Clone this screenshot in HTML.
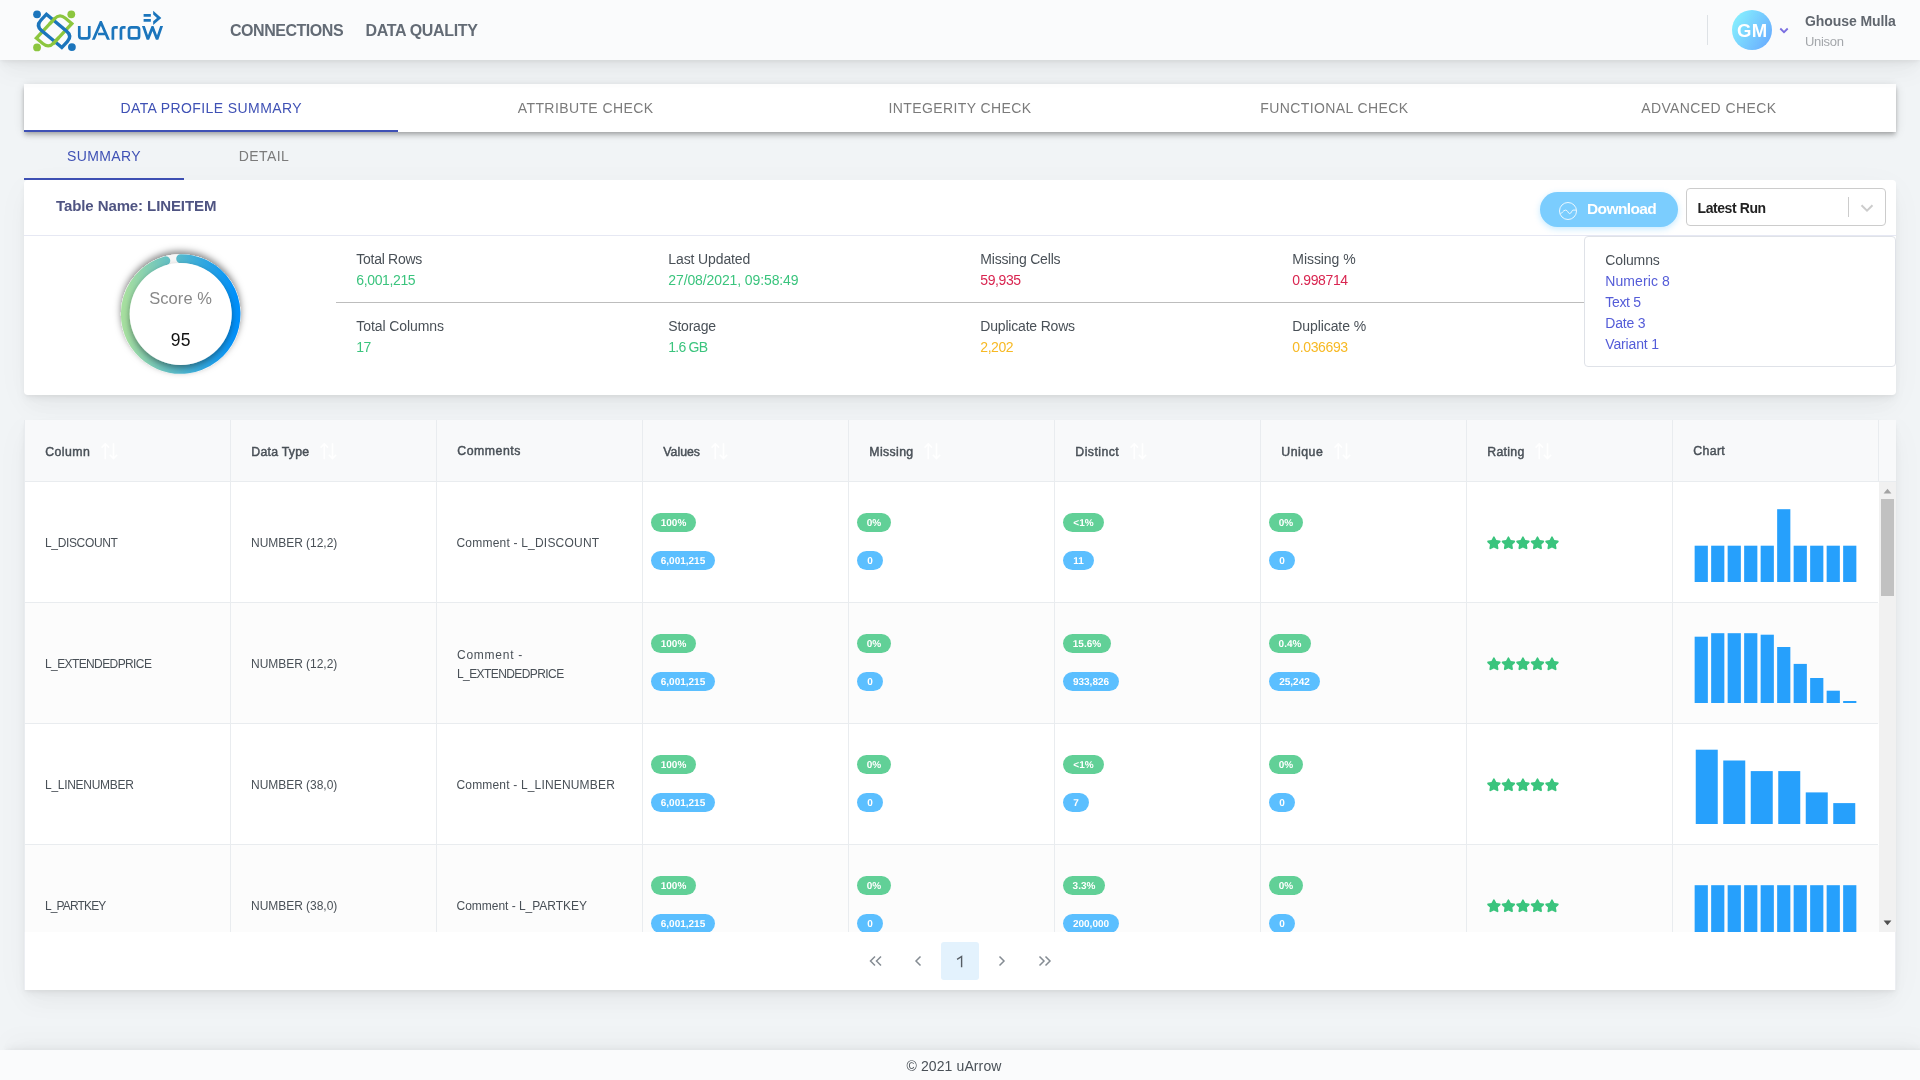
<!DOCTYPE html><html><head><meta charset="utf-8"><title>uArrow</title><style>
*{box-sizing:border-box;margin:0;padding:0}
html,body{width:1920px;height:1080px;overflow:hidden}
body{font-family:"Liberation Sans",sans-serif;background:#f1f4f6;color:#495057;position:relative;font-size:14px;line-height:1}
.a{position:absolute;white-space:nowrap}
.sh{box-shadow:0 7.5px 35px rgba(4,9,20,.03),0 15px 22.5px rgba(4,9,20,.03),0 4px 8.5px rgba(4,9,20,.05),0 2px 3px rgba(4,9,20,.03)}
#w{position:absolute;left:0;top:0;width:1920px;height:1080px;will-change:transform}
#hdr{left:0;top:0;width:1920px;height:60px;background:#fafbfc;z-index:10}
#ftr{left:0;top:1050px;width:1920px;height:30px;background:#fafbfc;z-index:10;box-shadow:4.8px -7.5px 35px rgba(4,9,20,.02),4.8px -15px 22.5px rgba(4,9,20,.02),4.8px -4px 8.5px rgba(4,9,20,.04),4.8px -2px 3px rgba(4,9,20,.02)}
.nav{font-weight:bold;font-size:16px;color:#636b75}
#tabs{left:24px;top:84px;width:1872px;height:48px;background:#fff;box-shadow:0 2px 4px -1px rgba(0,0,0,.2),0 4px 5px 0 rgba(0,0,0,.14),0 1px 10px 0 rgba(0,0,0,.12)}
.tab{top:0;height:48px;width:374.4px;text-align:center;font-size:14px;line-height:48px;color:#7b7b7b;letter-spacing:.4px}
.tab.on{color:#3f51b5}
.ink{background:#3f51b5;height:2px}
#card1{left:24px;top:180px;width:1872px;height:215px;background:#fff;border-radius:4px}
#card2{left:24px;top:420px;width:1872px;height:570px;background:#fff}
.lbl{font-size:14px;color:#495057}
.val{font-size:14px}
.g{color:#3ac47d}.r{color:#d92550}.y{color:#f7b924}.lk{color:#545cd8}
.th{top:0;height:62px;border-left:1px solid #e9ecef;width:206px}
.hd{font-weight:normal;font-size:12.3px;color:#495057;-webkit-text-stroke:.45px #495057}
.td{border-left:1px solid #e9ecef;border-bottom:1px solid #e9ecef;width:206px;height:121px}
.tx{font-size:12px;color:#495057}
.bd{height:19px;border-radius:10px;color:#fff;font-weight:bold;font-size:10px;line-height:19.5px;padding-top:1px;text-align:center;letter-spacing:0;text-rendering:geometricPrecision}
.bg{background:#61d097}.bb{background:#5bbfff}
</style></head><body><div id="w">
<div id="hdr" class="a sh">
<svg class="a" style="left:25px;top:0" width="80" height="60" viewBox="25 0 80 60">
<g transform="matrix(0.766,0.643,-0.682,0.731,54.1,30.9)" fill="none" stroke-width="3.3" stroke-linejoin="miter">
<path d="M8,-17 L8,9.5 Q8,17 0.5,17 L-8,17 L-8,-9.5 Q-8,-17 -0.5,-17 Z" stroke="#8cc63f"/>
<path d="M-17,-7.8 L9.5,-7.8 Q17,-7.8 17,-0.2999999999999998 L17,7.8 L-9.5,7.8 Q-17,7.8 -17,0.2999999999999998 Z" stroke="#1b75bc"/>
<path d="M-8,-2 L-8,-11" stroke="#8cc63f"/>
<path d="M8,2 L8,11" stroke="#8cc63f"/>
</g>
<circle cx="37.05" cy="14.3" r="3.9" fill="#1b75bc"/>
<circle cx="71.3" cy="14.3" r="3.9" fill="#8cc63f"/>
<circle cx="37.05" cy="47.4" r="3.9" fill="#8cc63f"/>
<circle cx="71.9" cy="47.1" r="3.9" fill="#1b75bc"/>
</svg>
<svg class="a" style="left:70px;top:0" width="100" height="60" viewBox="0 0 1800 1080">
<defs><clipPath id="cw"><rect x="1280" y="470" width="420" height="245"/></clipPath><clipPath id="ca"><rect x="380" y="380" width="360" height="335"/></clipPath></defs>
<g fill="none" stroke="#1b75bc" stroke-width="49" stroke-linejoin="miter">
<path d="M167,470 V650 Q167,692 210,692 H305 Q347,692 347,650 V470"/>
<path d="M412,735 L555,400 L700,735 M505,612 H645" clip-path="url(#ca)"/>
<path d="M772,715 V532 Q772,492 812,492 H860"/>
<path d="M917,715 V532 Q917,492 957,492 H1000"/>
<rect x="1062" y="492" width="181" height="200" rx="40"/>
<path d="M1315,450 L1402,705 L1485,490 L1568,705 L1655,450" clip-path="url(#cw)"/>
<path d="M1325,278 H1455 M1325,368 H1455"/>
<path d="M1497,192 L1644,322 L1497,452 L1497,384 L1566,322 L1497,260 Z" fill="#1b75bc" stroke="none"/>
</g></svg>
<div class="a nav" id="t1" style="left:230px;top:23px;letter-spacing:-0.463px;">CONNECTIONS</div>
<div class="a nav" id="t2" style="left:365.6px;top:23px;letter-spacing:-0.349px;">DATA QUALITY</div>
<div class="a" style="left:1707px;top:15px;width:1px;height:30px;background:#dee2e6"></div>
<div class="a" style="left:1732px;top:10px;width:40px;height:40px;border-radius:50%;background:linear-gradient(120deg,#89f7fe 0%,#66a6ff 100%)"></div>
<div class="a " id="t3" style="left:1737px;top:22.3px;color:#fff;font-weight:bold;font-size:18.5px;letter-spacing:.3px">GM</div>
<svg class="a" style="left:1778px;top:26px" width="12" height="10" viewBox="0 0 12 10"><path d="M2.3,2.5 L6,6.2 L9.7,2.5" fill="none" stroke="#7a6ee0" stroke-width="1.8"/></svg>
<div class="a " id="t4" style="left:1805px;top:14px;letter-spacing:-0.082px;font-weight:bold;font-size:14px;color:#60666e">Ghouse Mulla</div>
<div class="a " id="t5" style="left:1805px;top:35px;letter-spacing:-0.314px;font-size:13px;color:#a4a7ab">Unison</div>
</div>
<div id="tabs" class="a">
<div class="a tab on" style="left:0.0px">DATA PROFILE SUMMARY</div>
<div class="a tab" style="left:374.4px">ATTRIBUTE CHECK</div>
<div class="a tab" style="left:748.8px">INTEGERITY CHECK</div>
<div class="a tab" style="left:1123.2px">FUNCTIONAL CHECK</div>
<div class="a tab" style="left:1497.6px">ADVANCED CHECK</div>
<div class="a ink" style="left:0;top:46px;width:374px"></div>
</div>
<div class="a tab on" style="left:24px;top:132px;width:160px">SUMMARY</div>
<div class="a tab" style="left:184px;top:132px;width:160px">DETAIL</div>
<div class="a ink" style="left:24px;top:178px;width:160px"></div>
<div id="card1" class="a sh">
<div class="a " id="t6" style="left:32px;top:18px;letter-spacing:-0.097px;font-weight:bold;font-size:15px;color:#4f5482">Table Name: LINEITEM</div>
<div class="a" style="left:0;top:55px;width:1872px;height:1px;background:#e6e8f3"></div>
<div class="a" style="left:1516px;top:12px;width:138px;height:35px;border-radius:18px;background:#7bcdfe;box-shadow:0 2px 6px rgba(22,170,255,.25)"></div>
<svg class="a" style="left:1534px;top:21px;opacity:.85" width="20" height="20" viewBox="0 0 20 20"><circle cx="10" cy="10" r="8.5" fill="none" stroke="#fff" stroke-width="1"/><path d="M2.1,13.2 C4,12.5 5,9.2 7.6,9.1 C10,9.1 10,12.6 11.7,12.6 C13.4,12.6 13.8,9.1 15,9.1 L18.1,9.1" fill="none" stroke="#fff" stroke-width="1"/></svg>
<div class="a " id="t7" style="left:1563px;top:21px;letter-spacing:-0.609px;font-weight:bold;font-size:15.5px;color:#fff">Download</div>
<div class="a" style="left:1662px;top:8px;width:200px;height:38px;border:1px solid #ccc;border-radius:4px;background:#fff"></div>
<div class="a " id="t8" style="left:1673.5px;top:21px;letter-spacing:-0.416px;font-weight:bold;font-size:14px;color:#222">Latest Run</div>
<div class="a" style="left:1824px;top:17px;width:1px;height:20px;background:#ccc"></div>
<svg class="a" style="left:1835px;top:22px" width="16" height="12" viewBox="0 0 16 12"><path d="M2.5,3.2 L8,8.6 L13.5,3.2" fill="none" stroke="#ccc" stroke-width="2"/></svg>
<svg class="a" style="left:76px;top:56px" width="160" height="158" viewBox="76 56 160 158">
<defs>
<linearGradient id="gr" x1="0" y1="0" x2="1" y2="0"><stop offset="0" stop-color="#a6dfa0"/><stop offset="1" stop-color="#0090fb"/></linearGradient>
<filter id="f1" x="-30%" y="-30%" width="160%" height="160%"><feDropShadow dx="0" dy="-3" stdDeviation="3.5" flood-color="#000" flood-opacity=".5"/></filter>
<filter id="f2" x="-30%" y="-30%" width="160%" height="160%"><feDropShadow dx="0" dy="3" stdDeviation="3" flood-color="#000" flood-opacity=".4"/></filter>
<clipPath id="cr"><circle cx="156.7" cy="134" r="59.6"/></clipPath>
</defs>
<circle cx="156.7" cy="134" r="55.3" fill="none" stroke="#f4f4f4" stroke-width="9" filter="url(#f1)"/>
<circle cx="156.7" cy="134" r="55.3" fill="none" stroke="#f6f6f6" stroke-width="9"/>
<path d="M156.70,78.70 A55.3,55.3 0 1 1 141.74,80.76" fill="none" stroke="url(#gr)" stroke-width="9" stroke-linecap="round"/>
<g clip-path="url(#cr)"><circle cx="156.7" cy="134" r="51" fill="#fff" filter="url(#f2)"/></g>
</svg>
<div class="a " id="t9" style="left:125.2px;top:110px;letter-spacing:0.073px;font-size:16.5px;color:#888">Score %</div>
<div class="a " id="t10" style="left:146.8px;top:152px;letter-spacing:0.131px;font-size:17.5px;color:#111">95</div>
<div class="a lbl" id="t11" style="left:332.3px;top:72px;letter-spacing:-0.274px;">Total Rows</div>
<div class="a val g" id="t12" style="left:332.3px;top:93px;letter-spacing:-0.375px;">6,001,215</div>
<div class="a lbl" id="t13" style="left:332.3px;top:139px;letter-spacing:-0.092px;">Total Columns</div>
<div class="a val g" id="t14" style="left:332.3px;top:160px;letter-spacing:-0.578px;">17</div>
<div class="a lbl" id="t15" style="left:644.3px;top:72px;letter-spacing:-0.118px;">Last Updated</div>
<div class="a val g" id="t16" style="left:644.3px;top:93px;letter-spacing:-0.108px;">27/08/2021, 09:58:49</div>
<div class="a lbl" id="t17" style="left:644.3px;top:139px;letter-spacing:-0.224px;">Storage</div>
<div class="a val g" id="t18" style="left:644.3px;top:160px;letter-spacing:-0.779px;">1.6 GB</div>
<div class="a lbl" id="t19" style="left:956.3px;top:72px;letter-spacing:-0.181px;">Missing Cells</div>
<div class="a val r" id="t20" style="left:956.3px;top:93px;letter-spacing:-0.406px;">59,935</div>
<div class="a lbl" id="t21" style="left:956.3px;top:139px;letter-spacing:-0.190px;">Duplicate Rows</div>
<div class="a val y" id="t22" style="left:956.3px;top:160px;letter-spacing:-0.437px;">2,202</div>
<div class="a lbl" id="t23" style="left:1268.3px;top:72px;letter-spacing:-0.062px;">Missing %</div>
<div class="a val r" id="t24" style="left:1268.3px;top:93px;letter-spacing:-0.372px;">0.998714</div>
<div class="a lbl" id="t25" style="left:1268.3px;top:139px;letter-spacing:-0.090px;">Duplicate %</div>
<div class="a val y" id="t26" style="left:1268.3px;top:160px;letter-spacing:-0.372px;">0.036693</div>
<div class="a" style="left:312px;top:122px;width:1248px;height:1px;background:#bdbdbd"></div>
<div class="a" style="left:1560px;top:56px;width:312px;height:131px;border:1px solid #dfe2e8;border-radius:4px;background:#fff"></div>
<div class="a lbl" id="t27" style="left:1581.3px;top:73px;letter-spacing:-0.125px;">Columns</div>
<div class="a val lk" id="t28" style="left:1581.3px;top:94px;letter-spacing:0.088px;">Numeric 8</div>
<div class="a val lk" id="t29" style="left:1581.3px;top:115px;letter-spacing:-0.332px;">Text 5</div>
<div class="a val lk" id="t30" style="left:1581.3px;top:136px;letter-spacing:-0.190px;">Date 3</div>
<div class="a val lk" id="t31" style="left:1581.3px;top:157px;letter-spacing:-0.150px;">Variant 1</div>
</div>
<div id="card2" class="a sh">
<div class="a" style="left:0;top:0;width:1872px;height:62px;background:#f8f9fa;border-bottom:1px solid #e9ecef"></div>
<div class="a th" style="left:0px"></div>
<div class="a hd" id="t32" style="left:21.3px;top:26.4px;letter-spacing:0.425px;">Column</div>
<svg class="a" style="left:76.8px;top:22.6px" width="17" height="17" viewBox="0 0 17 17" fill="none" stroke="#fff" stroke-width="1.6"><path d="M4.3,16.2 V0.8 M0.6,4.6 L4.3,0.8 L8,4.6 M12.5,0.2 V15.6 M8.8,11.8 L12.5,15.6 L16.2,11.8"/></svg>
<div class="a th" style="left:206px"></div>
<div class="a hd" id="t33" style="left:227.3px;top:26.4px;letter-spacing:0.259px;">Data Type</div>
<svg class="a" style="left:296.2px;top:22.6px" width="17" height="17" viewBox="0 0 17 17" fill="none" stroke="#fff" stroke-width="1.6"><path d="M4.3,16.2 V0.8 M0.6,4.6 L4.3,0.8 L8,4.6 M12.5,0.2 V15.6 M8.8,11.8 L12.5,15.6 L16.2,11.8"/></svg>
<div class="a th" style="left:412px"></div>
<div class="a hd" id="t34" style="left:433.3px;top:25.2px;letter-spacing:0.521px;">Comments</div>
<div class="a th" style="left:618px"></div>
<div class="a hd" id="t35" style="left:639.3px;top:26.4px;letter-spacing:0.003px;">Values</div>
<svg class="a" style="left:687.0px;top:22.6px" width="17" height="17" viewBox="0 0 17 17" fill="none" stroke="#fff" stroke-width="1.6"><path d="M4.3,16.2 V0.8 M0.6,4.6 L4.3,0.8 L8,4.6 M12.5,0.2 V15.6 M8.8,11.8 L12.5,15.6 L16.2,11.8"/></svg>
<div class="a th" style="left:824px"></div>
<div class="a hd" id="t36" style="left:845.3px;top:26.4px;letter-spacing:0.369px;">Missing</div>
<svg class="a" style="left:900.2px;top:22.6px" width="17" height="17" viewBox="0 0 17 17" fill="none" stroke="#fff" stroke-width="1.6"><path d="M4.3,16.2 V0.8 M0.6,4.6 L4.3,0.8 L8,4.6 M12.5,0.2 V15.6 M8.8,11.8 L12.5,15.6 L16.2,11.8"/></svg>
<div class="a th" style="left:1030px"></div>
<div class="a hd" id="t37" style="left:1051.3px;top:26.4px;letter-spacing:0.453px;">Distinct</div>
<svg class="a" style="left:1105.8px;top:22.6px" width="17" height="17" viewBox="0 0 17 17" fill="none" stroke="#fff" stroke-width="1.6"><path d="M4.3,16.2 V0.8 M0.6,4.6 L4.3,0.8 L8,4.6 M12.5,0.2 V15.6 M8.8,11.8 L12.5,15.6 L16.2,11.8"/></svg>
<div class="a th" style="left:1236px"></div>
<div class="a hd" id="t38" style="left:1257.3px;top:26.4px;letter-spacing:0.506px;">Unique</div>
<svg class="a" style="left:1309.8px;top:22.6px" width="17" height="17" viewBox="0 0 17 17" fill="none" stroke="#fff" stroke-width="1.6"><path d="M4.3,16.2 V0.8 M0.6,4.6 L4.3,0.8 L8,4.6 M12.5,0.2 V15.6 M8.8,11.8 L12.5,15.6 L16.2,11.8"/></svg>
<div class="a th" style="left:1442px"></div>
<div class="a hd" id="t39" style="left:1463.3px;top:26.4px;letter-spacing:0.291px;">Rating</div>
<svg class="a" style="left:1511.3px;top:22.6px" width="17" height="17" viewBox="0 0 17 17" fill="none" stroke="#fff" stroke-width="1.6"><path d="M4.3,16.2 V0.8 M0.6,4.6 L4.3,0.8 L8,4.6 M12.5,0.2 V15.6 M8.8,11.8 L12.5,15.6 L16.2,11.8"/></svg>
<div class="a th" style="left:1648px"></div>
<div class="a hd" id="t40" style="left:1669.3px;top:25.2px;letter-spacing:0.355px;">Chart</div>
<div class="a" style="left:1854px;top:0;width:1px;height:512px;background:#e9ecef"></div>
<div class="a" style="left:0;top:62px;width:1855px;height:450px;overflow:hidden">
<div class="a" style="left:0;top:0px;width:1855px;height:121px;background:#fff"></div>
<div class="a td" style="left:0px;top:0px"></div>
<div class="a td" style="left:206px;top:0px"></div>
<div class="a td" style="left:412px;top:0px"></div>
<div class="a td" style="left:618px;top:0px"></div>
<div class="a td" style="left:824px;top:0px"></div>
<div class="a td" style="left:1030px;top:0px"></div>
<div class="a td" style="left:1236px;top:0px"></div>
<div class="a td" style="left:1442px;top:0px"></div>
<div class="a td" style="left:1648px;top:0px"></div>
<div class="a tx" id="t41" style="left:21px;top:54.5px;letter-spacing:-0.346px;">L_DISCOUNT</div>
<div class="a tx" id="t42" style="left:227px;top:54.5px;letter-spacing:-0.032px;">NUMBER (12,2)</div>
<div class="a tx" id="t43" style="left:432.5px;top:54.5px;letter-spacing:0.205px;">Comment - L_DISCOUNT</div>
<div class="a bd bg" style="left:627px;top:31px;width:45px">100%</div>
<div class="a bd bb" style="left:627px;top:69px;width:64px">6,001,215</div>
<div class="a bd bg" style="left:833px;top:31px;width:34px">0%</div>
<div class="a bd bb" style="left:833px;top:69px;width:26px">0</div>
<div class="a bd bg" style="left:1039px;top:31px;width:41px">&lt;1%</div>
<div class="a bd bb" style="left:1039px;top:69px;width:31px">11</div>
<div class="a bd bg" style="left:1245px;top:31px;width:34px">0%</div>
<div class="a bd bb" style="left:1245px;top:69px;width:26px">0</div>
<svg class="a" style="left:1463.2px;top:53.8px" width="74" height="14" viewBox="0 0 74 14" fill="#3ac47d"><path transform="translate(0.00,0)" d="M6.9,0.3 C7.2,0.3 7.5,0.5 7.7,0.9 L9.3,4.1 L12.8,4.6 C13.6,4.7 13.9,5.6 13.3,6.2 L10.8,8.6 L11.4,12.1 C11.5,12.9 10.7,13.4 10,13.1 L6.9,11.4 L3.8,13.1 C3.1,13.4 2.3,12.9 2.4,12.1 L3,8.6 L0.5,6.2 C-0.1,5.6 0.2,4.7 1,4.6 L4.5,4.1 L6.1,0.9 C6.3,0.5 6.6,0.3 6.9,0.3 Z"/><path transform="translate(14.52,0)" d="M6.9,0.3 C7.2,0.3 7.5,0.5 7.7,0.9 L9.3,4.1 L12.8,4.6 C13.6,4.7 13.9,5.6 13.3,6.2 L10.8,8.6 L11.4,12.1 C11.5,12.9 10.7,13.4 10,13.1 L6.9,11.4 L3.8,13.1 C3.1,13.4 2.3,12.9 2.4,12.1 L3,8.6 L0.5,6.2 C-0.1,5.6 0.2,4.7 1,4.6 L4.5,4.1 L6.1,0.9 C6.3,0.5 6.6,0.3 6.9,0.3 Z"/><path transform="translate(29.04,0)" d="M6.9,0.3 C7.2,0.3 7.5,0.5 7.7,0.9 L9.3,4.1 L12.8,4.6 C13.6,4.7 13.9,5.6 13.3,6.2 L10.8,8.6 L11.4,12.1 C11.5,12.9 10.7,13.4 10,13.1 L6.9,11.4 L3.8,13.1 C3.1,13.4 2.3,12.9 2.4,12.1 L3,8.6 L0.5,6.2 C-0.1,5.6 0.2,4.7 1,4.6 L4.5,4.1 L6.1,0.9 C6.3,0.5 6.6,0.3 6.9,0.3 Z"/><path transform="translate(43.56,0)" d="M6.9,0.3 C7.2,0.3 7.5,0.5 7.7,0.9 L9.3,4.1 L12.8,4.6 C13.6,4.7 13.9,5.6 13.3,6.2 L10.8,8.6 L11.4,12.1 C11.5,12.9 10.7,13.4 10,13.1 L6.9,11.4 L3.8,13.1 C3.1,13.4 2.3,12.9 2.4,12.1 L3,8.6 L0.5,6.2 C-0.1,5.6 0.2,4.7 1,4.6 L4.5,4.1 L6.1,0.9 C6.3,0.5 6.6,0.3 6.9,0.3 Z"/><path transform="translate(58.08,0)" d="M6.9,0.3 C7.2,0.3 7.5,0.5 7.7,0.9 L9.3,4.1 L12.8,4.6 C13.6,4.7 13.9,5.6 13.3,6.2 L10.8,8.6 L11.4,12.1 C11.5,12.9 10.7,13.4 10,13.1 L6.9,11.4 L3.8,13.1 C3.1,13.4 2.3,12.9 2.4,12.1 L3,8.6 L0.5,6.2 C-0.1,5.6 0.2,4.7 1,4.6 L4.5,4.1 L6.1,0.9 C6.3,0.5 6.6,0.3 6.9,0.3 Z"/></svg>
<svg class="a" style="left:1669px;top:0px" width="165" height="100" viewBox="0 0 165 100" fill="#26a0fc"><rect x="1.65" y="63.70" width="13.20" height="36.50"/><rect x="18.15" y="63.70" width="13.20" height="36.50"/><rect x="34.65" y="63.70" width="13.20" height="36.50"/><rect x="51.15" y="63.70" width="13.20" height="36.50"/><rect x="67.65" y="63.70" width="13.20" height="36.50"/><rect x="84.15" y="27.20" width="13.20" height="73.00"/><rect x="100.65" y="63.70" width="13.20" height="36.50"/><rect x="117.15" y="63.70" width="13.20" height="36.50"/><rect x="133.65" y="63.70" width="13.20" height="36.50"/><rect x="150.15" y="63.70" width="13.20" height="36.50"/></svg>
<div class="a" style="left:0;top:121px;width:1855px;height:121px;background:#fcfcfc"></div>
<div class="a td" style="left:0px;top:121px"></div>
<div class="a td" style="left:206px;top:121px"></div>
<div class="a td" style="left:412px;top:121px"></div>
<div class="a td" style="left:618px;top:121px"></div>
<div class="a td" style="left:824px;top:121px"></div>
<div class="a td" style="left:1030px;top:121px"></div>
<div class="a td" style="left:1236px;top:121px"></div>
<div class="a td" style="left:1442px;top:121px"></div>
<div class="a td" style="left:1648px;top:121px"></div>
<div class="a tx" id="t44" style="left:21px;top:175.5px;letter-spacing:-0.605px;">L_EXTENDEDPRICE</div>
<div class="a tx" id="t45" style="left:227px;top:175.5px;letter-spacing:-0.032px;">NUMBER (12,2)</div>
<div class="a tx" id="t46" style="left:433px;top:167px;letter-spacing:0.745px;">Comment -</div>
<div class="a tx" id="t47" style="left:433px;top:186px;letter-spacing:-0.584px;">L_EXTENDEDPRICE</div>
<div class="a bd bg" style="left:627px;top:152px;width:45px">100%</div>
<div class="a bd bb" style="left:627px;top:190px;width:64px">6,001,215</div>
<div class="a bd bg" style="left:833px;top:152px;width:34px">0%</div>
<div class="a bd bb" style="left:833px;top:190px;width:26px">0</div>
<div class="a bd bg" style="left:1039px;top:152px;width:48px">15.6%</div>
<div class="a bd bb" style="left:1039px;top:190px;width:56px">933,826</div>
<div class="a bd bg" style="left:1245px;top:152px;width:42px">0.4%</div>
<div class="a bd bb" style="left:1245px;top:190px;width:51px">25,242</div>
<svg class="a" style="left:1463.2px;top:174.8px" width="74" height="14" viewBox="0 0 74 14" fill="#3ac47d"><path transform="translate(0.00,0)" d="M6.9,0.3 C7.2,0.3 7.5,0.5 7.7,0.9 L9.3,4.1 L12.8,4.6 C13.6,4.7 13.9,5.6 13.3,6.2 L10.8,8.6 L11.4,12.1 C11.5,12.9 10.7,13.4 10,13.1 L6.9,11.4 L3.8,13.1 C3.1,13.4 2.3,12.9 2.4,12.1 L3,8.6 L0.5,6.2 C-0.1,5.6 0.2,4.7 1,4.6 L4.5,4.1 L6.1,0.9 C6.3,0.5 6.6,0.3 6.9,0.3 Z"/><path transform="translate(14.52,0)" d="M6.9,0.3 C7.2,0.3 7.5,0.5 7.7,0.9 L9.3,4.1 L12.8,4.6 C13.6,4.7 13.9,5.6 13.3,6.2 L10.8,8.6 L11.4,12.1 C11.5,12.9 10.7,13.4 10,13.1 L6.9,11.4 L3.8,13.1 C3.1,13.4 2.3,12.9 2.4,12.1 L3,8.6 L0.5,6.2 C-0.1,5.6 0.2,4.7 1,4.6 L4.5,4.1 L6.1,0.9 C6.3,0.5 6.6,0.3 6.9,0.3 Z"/><path transform="translate(29.04,0)" d="M6.9,0.3 C7.2,0.3 7.5,0.5 7.7,0.9 L9.3,4.1 L12.8,4.6 C13.6,4.7 13.9,5.6 13.3,6.2 L10.8,8.6 L11.4,12.1 C11.5,12.9 10.7,13.4 10,13.1 L6.9,11.4 L3.8,13.1 C3.1,13.4 2.3,12.9 2.4,12.1 L3,8.6 L0.5,6.2 C-0.1,5.6 0.2,4.7 1,4.6 L4.5,4.1 L6.1,0.9 C6.3,0.5 6.6,0.3 6.9,0.3 Z"/><path transform="translate(43.56,0)" d="M6.9,0.3 C7.2,0.3 7.5,0.5 7.7,0.9 L9.3,4.1 L12.8,4.6 C13.6,4.7 13.9,5.6 13.3,6.2 L10.8,8.6 L11.4,12.1 C11.5,12.9 10.7,13.4 10,13.1 L6.9,11.4 L3.8,13.1 C3.1,13.4 2.3,12.9 2.4,12.1 L3,8.6 L0.5,6.2 C-0.1,5.6 0.2,4.7 1,4.6 L4.5,4.1 L6.1,0.9 C6.3,0.5 6.6,0.3 6.9,0.3 Z"/><path transform="translate(58.08,0)" d="M6.9,0.3 C7.2,0.3 7.5,0.5 7.7,0.9 L9.3,4.1 L12.8,4.6 C13.6,4.7 13.9,5.6 13.3,6.2 L10.8,8.6 L11.4,12.1 C11.5,12.9 10.7,13.4 10,13.1 L6.9,11.4 L3.8,13.1 C3.1,13.4 2.3,12.9 2.4,12.1 L3,8.6 L0.5,6.2 C-0.1,5.6 0.2,4.7 1,4.6 L4.5,4.1 L6.1,0.9 C6.3,0.5 6.6,0.3 6.9,0.3 Z"/></svg>
<svg class="a" style="left:1669px;top:121px" width="165" height="100" viewBox="0 0 165 100" fill="#26a0fc"><rect x="1.65" y="33.70" width="13.20" height="66.50"/><rect x="18.15" y="30.20" width="13.20" height="70.00"/><rect x="34.65" y="30.20" width="13.20" height="70.00"/><rect x="51.15" y="30.20" width="13.20" height="70.00"/><rect x="67.65" y="31.70" width="13.20" height="68.50"/><rect x="84.15" y="44.00" width="13.20" height="56.20"/><rect x="100.65" y="60.90" width="13.20" height="39.30"/><rect x="117.15" y="75.00" width="13.20" height="25.20"/><rect x="133.65" y="87.70" width="13.20" height="12.50"/><rect x="150.15" y="98.00" width="13.20" height="2.20"/></svg>
<div class="a" style="left:0;top:242px;width:1855px;height:121px;background:#fff"></div>
<div class="a td" style="left:0px;top:242px"></div>
<div class="a td" style="left:206px;top:242px"></div>
<div class="a td" style="left:412px;top:242px"></div>
<div class="a td" style="left:618px;top:242px"></div>
<div class="a td" style="left:824px;top:242px"></div>
<div class="a td" style="left:1030px;top:242px"></div>
<div class="a td" style="left:1236px;top:242px"></div>
<div class="a td" style="left:1442px;top:242px"></div>
<div class="a td" style="left:1648px;top:242px"></div>
<div class="a tx" id="t48" style="left:21px;top:296.5px;letter-spacing:-0.294px;">L_LINENUMBER</div>
<div class="a tx" id="t49" style="left:227px;top:296.5px;letter-spacing:-0.032px;">NUMBER (38,0)</div>
<div class="a tx" id="t50" style="left:432.5px;top:296.5px;letter-spacing:0.171px;">Comment - L_LINENUMBER</div>
<div class="a bd bg" style="left:627px;top:273px;width:45px">100%</div>
<div class="a bd bb" style="left:627px;top:311px;width:64px">6,001,215</div>
<div class="a bd bg" style="left:833px;top:273px;width:34px">0%</div>
<div class="a bd bb" style="left:833px;top:311px;width:26px">0</div>
<div class="a bd bg" style="left:1039px;top:273px;width:41px">&lt;1%</div>
<div class="a bd bb" style="left:1039px;top:311px;width:26px">7</div>
<div class="a bd bg" style="left:1245px;top:273px;width:34px">0%</div>
<div class="a bd bb" style="left:1245px;top:311px;width:26px">0</div>
<svg class="a" style="left:1463.2px;top:295.8px" width="74" height="14" viewBox="0 0 74 14" fill="#3ac47d"><path transform="translate(0.00,0)" d="M6.9,0.3 C7.2,0.3 7.5,0.5 7.7,0.9 L9.3,4.1 L12.8,4.6 C13.6,4.7 13.9,5.6 13.3,6.2 L10.8,8.6 L11.4,12.1 C11.5,12.9 10.7,13.4 10,13.1 L6.9,11.4 L3.8,13.1 C3.1,13.4 2.3,12.9 2.4,12.1 L3,8.6 L0.5,6.2 C-0.1,5.6 0.2,4.7 1,4.6 L4.5,4.1 L6.1,0.9 C6.3,0.5 6.6,0.3 6.9,0.3 Z"/><path transform="translate(14.52,0)" d="M6.9,0.3 C7.2,0.3 7.5,0.5 7.7,0.9 L9.3,4.1 L12.8,4.6 C13.6,4.7 13.9,5.6 13.3,6.2 L10.8,8.6 L11.4,12.1 C11.5,12.9 10.7,13.4 10,13.1 L6.9,11.4 L3.8,13.1 C3.1,13.4 2.3,12.9 2.4,12.1 L3,8.6 L0.5,6.2 C-0.1,5.6 0.2,4.7 1,4.6 L4.5,4.1 L6.1,0.9 C6.3,0.5 6.6,0.3 6.9,0.3 Z"/><path transform="translate(29.04,0)" d="M6.9,0.3 C7.2,0.3 7.5,0.5 7.7,0.9 L9.3,4.1 L12.8,4.6 C13.6,4.7 13.9,5.6 13.3,6.2 L10.8,8.6 L11.4,12.1 C11.5,12.9 10.7,13.4 10,13.1 L6.9,11.4 L3.8,13.1 C3.1,13.4 2.3,12.9 2.4,12.1 L3,8.6 L0.5,6.2 C-0.1,5.6 0.2,4.7 1,4.6 L4.5,4.1 L6.1,0.9 C6.3,0.5 6.6,0.3 6.9,0.3 Z"/><path transform="translate(43.56,0)" d="M6.9,0.3 C7.2,0.3 7.5,0.5 7.7,0.9 L9.3,4.1 L12.8,4.6 C13.6,4.7 13.9,5.6 13.3,6.2 L10.8,8.6 L11.4,12.1 C11.5,12.9 10.7,13.4 10,13.1 L6.9,11.4 L3.8,13.1 C3.1,13.4 2.3,12.9 2.4,12.1 L3,8.6 L0.5,6.2 C-0.1,5.6 0.2,4.7 1,4.6 L4.5,4.1 L6.1,0.9 C6.3,0.5 6.6,0.3 6.9,0.3 Z"/><path transform="translate(58.08,0)" d="M6.9,0.3 C7.2,0.3 7.5,0.5 7.7,0.9 L9.3,4.1 L12.8,4.6 C13.6,4.7 13.9,5.6 13.3,6.2 L10.8,8.6 L11.4,12.1 C11.5,12.9 10.7,13.4 10,13.1 L6.9,11.4 L3.8,13.1 C3.1,13.4 2.3,12.9 2.4,12.1 L3,8.6 L0.5,6.2 C-0.1,5.6 0.2,4.7 1,4.6 L4.5,4.1 L6.1,0.9 C6.3,0.5 6.6,0.3 6.9,0.3 Z"/></svg>
<svg class="a" style="left:1669px;top:242px" width="165" height="100" viewBox="0 0 165 100" fill="#26a0fc"><rect x="2.75" y="25.70" width="22.00" height="74.50"/><rect x="30.25" y="36.50" width="22.00" height="63.70"/><rect x="57.75" y="47.10" width="22.00" height="53.10"/><rect x="85.25" y="47.10" width="22.00" height="53.10"/><rect x="112.75" y="68.40" width="22.00" height="31.80"/><rect x="140.25" y="79.10" width="22.00" height="21.10"/></svg>
<div class="a" style="left:0;top:363px;width:1855px;height:121px;background:#fcfcfc"></div>
<div class="a td" style="left:0px;top:363px"></div>
<div class="a td" style="left:206px;top:363px"></div>
<div class="a td" style="left:412px;top:363px"></div>
<div class="a td" style="left:618px;top:363px"></div>
<div class="a td" style="left:824px;top:363px"></div>
<div class="a td" style="left:1030px;top:363px"></div>
<div class="a td" style="left:1236px;top:363px"></div>
<div class="a td" style="left:1442px;top:363px"></div>
<div class="a td" style="left:1648px;top:363px"></div>
<div class="a tx" id="t51" style="left:21px;top:417.5px;letter-spacing:-0.871px;">L_PARTKEY</div>
<div class="a tx" id="t52" style="left:227px;top:417.5px;letter-spacing:-0.032px;">NUMBER (38,0)</div>
<div class="a tx" id="t53" style="left:432.5px;top:417.5px;letter-spacing:-0.024px;">Comment - L_PARTKEY</div>
<div class="a bd bg" style="left:627px;top:394px;width:45px">100%</div>
<div class="a bd bb" style="left:627px;top:432px;width:64px">6,001,215</div>
<div class="a bd bg" style="left:833px;top:394px;width:34px">0%</div>
<div class="a bd bb" style="left:833px;top:432px;width:26px">0</div>
<div class="a bd bg" style="left:1039px;top:394px;width:42px">3.3%</div>
<div class="a bd bb" style="left:1039px;top:432px;width:56px">200,000</div>
<div class="a bd bg" style="left:1245px;top:394px;width:34px">0%</div>
<div class="a bd bb" style="left:1245px;top:432px;width:26px">0</div>
<svg class="a" style="left:1463.2px;top:416.8px" width="74" height="14" viewBox="0 0 74 14" fill="#3ac47d"><path transform="translate(0.00,0)" d="M6.9,0.3 C7.2,0.3 7.5,0.5 7.7,0.9 L9.3,4.1 L12.8,4.6 C13.6,4.7 13.9,5.6 13.3,6.2 L10.8,8.6 L11.4,12.1 C11.5,12.9 10.7,13.4 10,13.1 L6.9,11.4 L3.8,13.1 C3.1,13.4 2.3,12.9 2.4,12.1 L3,8.6 L0.5,6.2 C-0.1,5.6 0.2,4.7 1,4.6 L4.5,4.1 L6.1,0.9 C6.3,0.5 6.6,0.3 6.9,0.3 Z"/><path transform="translate(14.52,0)" d="M6.9,0.3 C7.2,0.3 7.5,0.5 7.7,0.9 L9.3,4.1 L12.8,4.6 C13.6,4.7 13.9,5.6 13.3,6.2 L10.8,8.6 L11.4,12.1 C11.5,12.9 10.7,13.4 10,13.1 L6.9,11.4 L3.8,13.1 C3.1,13.4 2.3,12.9 2.4,12.1 L3,8.6 L0.5,6.2 C-0.1,5.6 0.2,4.7 1,4.6 L4.5,4.1 L6.1,0.9 C6.3,0.5 6.6,0.3 6.9,0.3 Z"/><path transform="translate(29.04,0)" d="M6.9,0.3 C7.2,0.3 7.5,0.5 7.7,0.9 L9.3,4.1 L12.8,4.6 C13.6,4.7 13.9,5.6 13.3,6.2 L10.8,8.6 L11.4,12.1 C11.5,12.9 10.7,13.4 10,13.1 L6.9,11.4 L3.8,13.1 C3.1,13.4 2.3,12.9 2.4,12.1 L3,8.6 L0.5,6.2 C-0.1,5.6 0.2,4.7 1,4.6 L4.5,4.1 L6.1,0.9 C6.3,0.5 6.6,0.3 6.9,0.3 Z"/><path transform="translate(43.56,0)" d="M6.9,0.3 C7.2,0.3 7.5,0.5 7.7,0.9 L9.3,4.1 L12.8,4.6 C13.6,4.7 13.9,5.6 13.3,6.2 L10.8,8.6 L11.4,12.1 C11.5,12.9 10.7,13.4 10,13.1 L6.9,11.4 L3.8,13.1 C3.1,13.4 2.3,12.9 2.4,12.1 L3,8.6 L0.5,6.2 C-0.1,5.6 0.2,4.7 1,4.6 L4.5,4.1 L6.1,0.9 C6.3,0.5 6.6,0.3 6.9,0.3 Z"/><path transform="translate(58.08,0)" d="M6.9,0.3 C7.2,0.3 7.5,0.5 7.7,0.9 L9.3,4.1 L12.8,4.6 C13.6,4.7 13.9,5.6 13.3,6.2 L10.8,8.6 L11.4,12.1 C11.5,12.9 10.7,13.4 10,13.1 L6.9,11.4 L3.8,13.1 C3.1,13.4 2.3,12.9 2.4,12.1 L3,8.6 L0.5,6.2 C-0.1,5.6 0.2,4.7 1,4.6 L4.5,4.1 L6.1,0.9 C6.3,0.5 6.6,0.3 6.9,0.3 Z"/></svg>
<svg class="a" style="left:1669px;top:363px" width="165" height="100" viewBox="0 0 165 100" fill="#26a0fc"><rect x="1.65" y="40.20" width="13.20" height="60.00"/><rect x="18.15" y="40.20" width="13.20" height="60.00"/><rect x="34.65" y="40.20" width="13.20" height="60.00"/><rect x="51.15" y="40.20" width="13.20" height="60.00"/><rect x="67.65" y="40.20" width="13.20" height="60.00"/><rect x="84.15" y="40.20" width="13.20" height="60.00"/><rect x="100.65" y="40.20" width="13.20" height="60.00"/><rect x="117.15" y="40.20" width="13.20" height="60.00"/><rect x="133.65" y="40.20" width="13.20" height="60.00"/><rect x="150.15" y="40.20" width="13.20" height="60.00"/></svg>
</div>
<div class="a" style="left:1855px;top:62px;width:17px;height:450px;background:#f1f1f1"></div>
<div class="a" style="left:1857px;top:79px;width:13px;height:97px;background:#c1c1c1"></div>
<svg class="a" style="left:1855px;top:62px" width="17" height="17" viewBox="0 0 17 17"><path d="M4.6,11.4 L8.5,6.7 L12.4,11.4 Z" fill="#a3a3a3"/></svg>
<svg class="a" style="left:1855px;top:495px" width="17" height="17" viewBox="0 0 17 17"><path d="M4.6,5.6 L8.5,10.3 L12.4,5.6 Z" fill="#505050"/></svg>
<div class="a" style="left:0;top:512px;width:1px;height:58px;background:#eceef2"></div><div class="a" style="left:1871px;top:512px;width:1px;height:58px;background:#eceef2"></div>
<div class="a" style="left:917px;top:522px;width:38px;height:38px;background:#e3f2fd;border-radius:3px"></div>
<svg class="a" style="left:917px;top:522px" width="38" height="38" viewBox="941 942 38 38"><path d="M957.1,959.4 L961.6,956.5 L961.6,967.2" stroke="#565d64" stroke-width="1.4" fill="none"/></svg>
<svg class="a" style="left:833px;top:522px" width="206" height="38" viewBox="0 0 206 38" fill="none" stroke="#858c93" stroke-width="1.5"><path d="M18,14.5 L13.5,19 L18,23.5 M24,14.5 L19.5,19 L24,23.5"/><path d="M63.5,14.5 L59,19 L63.5,23.5"/><path d="M142.5,14.5 L147,19 L142.5,23.5"/><path d="M182.5,14.5 L187,19 L182.5,23.5 M188.5,14.5 L193,19 L188.5,23.5"/></svg>
</div>
<div id="ftr" class="a"><div class="a " id="t54" style="left:906.5px;top:8.5px;letter-spacing:0.109px;font-size:14px;color:#495057">© 2021 uArrow</div></div>
</div></body></html>
